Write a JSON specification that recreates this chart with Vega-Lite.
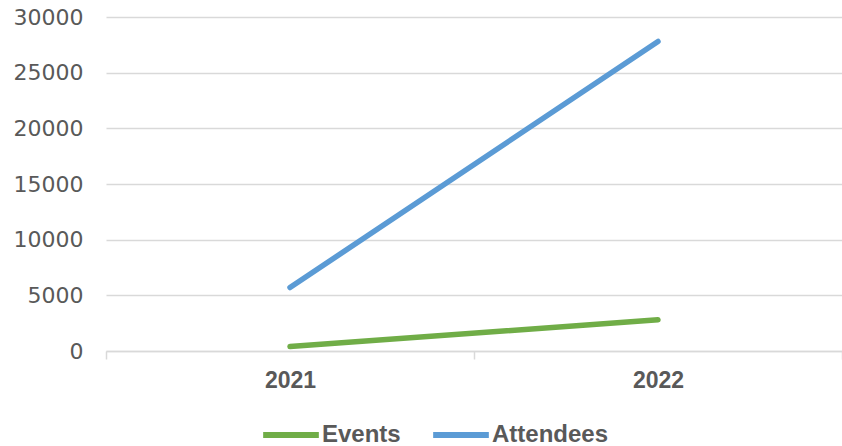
{
  "$schema": "https://vega.github.io/schema/vega-lite/v6.json",
  "width": 736,
  "height": 334,
  "autosize": {"type": "none"},
  "padding": {"left": 106, "top": 17, "right": 0, "bottom": 95},
  "background": "white",
  "config": {
    "view": {"stroke": null},
    "font": "Liberation Sans"
  },
  "data": {
    "values": [
      {"year": "2021", "series": "Events", "value": 400},
      {"year": "2022", "series": "Events", "value": 2800},
      {"year": "2021", "series": "Attendees", "value": 5700},
      {"year": "2022", "series": "Attendees", "value": 27800}
    ]
  },
  "mark": {"type": "line", "strokeWidth": 5.5, "strokeCap": "round"},
  "encoding": {
    "x": {
      "field": "year",
      "type": "ordinal",
      "bandPosition": 0.5,
      "scale": {"type": "band", "paddingInner": 0, "paddingOuter": 0},
      "axis": {
        "title": null,
        "labelAngle": 0,
        "tickBand": "extent",
        "ticks": true,
        "tickSize": 8,
        "tickColor": "#d9d9d9",
        "tickWidth": 1.5,
        "domainColor": "#d9d9d9",
        "domainWidth": 1.5,
        "grid": false,
        "labelFont": "Liberation Sans",
        "labelFontSize": 23,
        "labelFontWeight": "bold",
        "labelColor": "#595959",
        "labelPadding": 10
      }
    },
    "y": {
      "field": "value",
      "type": "quantitative",
      "scale": {"domain": [0, 30000], "nice": false},
      "axis": {
        "title": null,
        "values": [0, 5000, 10000, 15000, 20000, 25000, 30000],
        "format": "d",
        "domain": false,
        "ticks": false,
        "labelPadding": 23,
        "labelFont": "DejaVu Sans",
        "labelFontSize": 22,
        "labelColor": "#595959",
        "gridColor": "#d9d9d9",
        "gridWidth": 1.5
      }
    },
    "color": {
      "field": "series",
      "type": "nominal",
      "sort": ["Events", "Attendees"],
      "scale": {"domain": ["Events", "Attendees"], "range": ["#70ad47", "#5b9bd5"]},
      "legend": {
        "title": null,
        "orient": "none",
        "legendX": 154,
        "legendY": 387,
        "direction": "horizontal",
        "symbolType": "stroke",
        "symbolSize": 3100,
        "symbolStrokeWidth": 6,
        "labelFont": "Liberation Sans",
        "labelFontSize": 24,
        "labelFontWeight": "bold",
        "labelColor": "#595959",
        "labelOffset": 0,
        "columnPadding": 20,
        "padding": 0
      }
    }
  }
}
